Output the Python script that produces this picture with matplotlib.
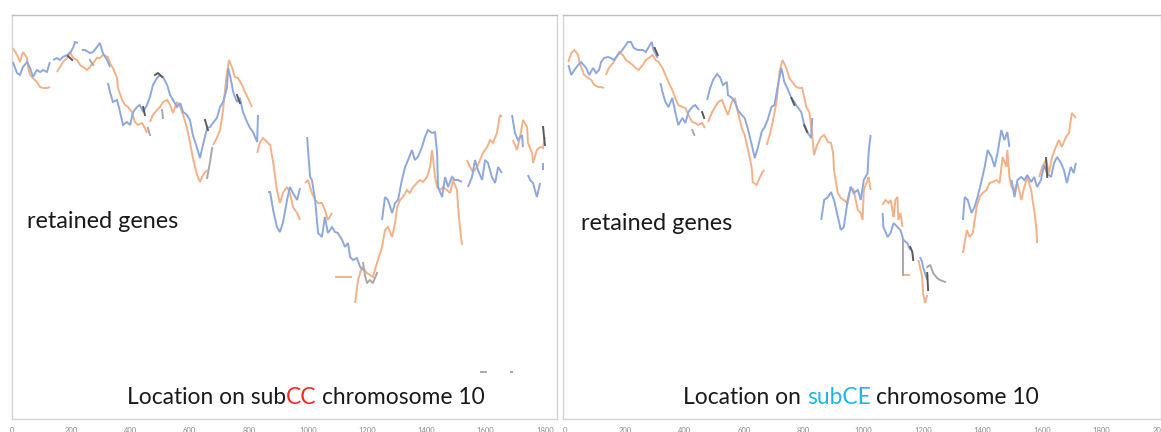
import numpy as np
import matplotlib
matplotlib.use("Agg")
import matplotlib.pyplot as plt

# ---------------- data (x = location on chromosome, y = relative score) ----------------
# Left panel: subCC
cc_blue_x = [
    [3,17,27,37,51,61,71,84,95,105,118,128],
    [139,152,162,172,186,196,206,213,223],
    [236,247,263,274,287,297,307,321,331],
    [324,331,341,355,365,375,388,399,409,422,432,443,456,466,476,490,500,510,524,534,544,557,568,578,591,601,611,625,635,645,659,669,679,692,703,713,726,730,736,743,747,760,770,780,794,804,814,828,831],
    [865,872,882,895,905,915,929,939,949,963,973],
    [997,1000,1007,1013,1017,1024,1030,1034,1047,1057,1067,1081,1091,1101,1115,1125,1135,1142,1152,1165,1176,1186],
    [1250,1260,1270,1284,1294,1304,1317,1328,1338,1351,1361,1371,1385,1395,1405,1419,1429,1436,1439,1453,1463,1473,1486,1496,1507,1520],
    [1540,1554,1564,1574,1588,1598,1608,1621,1632,1642,1655],
    [1689,1699,1709,1723,1726],
    [1743,1750,1760,1773,1784],
    [1794,1794],
]
cc_blue_y = [
    [357,346,344,352,357,351,342,349,347,349,347,357],
    [359,361,359,362,364,366,371,377,376],
    [369,369,366,367,372,376,366,359,352],
    [336,327,317,319,307,294,297,294,307,312,314,307,314,322,334,341,344,342,334,324,319,312,316,307,304,299,284,271,261,274,291,292,296,301,312,317,331,351,344,334,327,317,321,307,297,291,287,277,304],
    [227,227,209,192,187,196,219,232,226,219,231],
    [282,269,242,239,232,219,199,186,182,202,186,192,187,186,179,172,176,162,159,161,152,149],
    [199,222,219,206,216,219,239,252,259,269,259,262,272,282,289,286,287,266,232,222,242,232,242,239,239,237],
    [232,242,259,249,239,259,256,242,236,252,246],
    [304,286,279,284,272],
    [244,239,236,222,236],
    [256,249],
]
cc_orange_x = [
    [3,17,27,37,51,54,61,71,84,95,105,118,128],
    [152,162,172,186,196,206,220,230,240,253,263,274,287,297,307,324,331,341,355,358,372,382,392,405,415,426,439,449,456],
    [466,476,490,500,510,524,534,544,557,568,578,591,601,611,625,635,645,659],
    [679,692,703,713,723,733,743,753,763,777,787,797,811],
    [828,838,848,861,872,882,895,905,915,929,939,949,963,973],
    [990,1000,1013,1024,1034,1047,1057,1067,1081],
    [1091,1149],
    [1159,1169,1182,1199,1219,1236,1250,1260,1270,1284,1294,1301,1311,1321,1334,1344,1355,1368,1378,1388,1402,1412,1419,1429,1436,1446,1456,1469,1480,1490,1503,1507,1513,1520],
    [1537,1547,1557,1571,1581,1591,1605,1615,1625,1638,1648,1655],
    [1692,1706,1716,1726,1740,1743,1757,1760,1773,1784,1794,1800],
]
cc_orange_y = [
    [371,364,357,367,361,352,344,341,337,332,331,331,332],
    [347,352,357,361,367,361,359,354,352,349,352,356,361,361,364,362,356,351,341,331,319,314,312,307,297,294,296,291,286],
    [297,304,309,312,317,319,314,306,317,312,304,291,277,261,244,237,244,249],
    [274,281,289,309,339,359,352,342,341,334,327,321,312],
    [266,277,281,277,274,257,229,216,226,232,226,212,206,199],
    [236,239,226,219,216,216,209,199,206],
    [142,142],
    [116,139,152,146,142,159,172,189,192,182,196,212,219,222,229,226,232,236,239,237,242,252,269,242,232,229,232,229,226,239,229,212,192,174],
    [259,252,247,252,259,266,272,279,276,286,304,302],
    [279,269,282,299,292,276,266,256,269,272,271,282],
]
cc_gray_x = [[1186,1192,1199,1209,1219,1233],[659,669,676],[443,449],[483,493,507],[507,510],
             [459,466],[652,662],[760,770],[189,203],[263,274],[1794,1800],[1584,1601],[1686,1689]]
cc_gray_y = [[156,144,136,139,136,146],[241,257,271],[312,304],[344,346,342],[309,301],
             [291,284],[299,289],[324,316],[363,359],[359,354],[292,274],[47,47],[47,47]]
cc_gray_dark = [False, False, True, True, False, False, True, True, True, False, True, False, False]

# Right panel: subCE
ce_blue_x = [
    [10,20,30,43,53,70,80,93,103,113,120,130,143,153,163,176,186,196,210,220,230,243,260,270,280,290,296,310],
    [319,326,336,346,359,369,379,393,403,413,426,436,449],
    [476,486,496,509,519,529,542,546,559,569,579,592,602,612,626,636,646,659,669,679,692,702,712,725,729,735,745,759,769,779,792,802,812,825,829],
    [859,869,882,892,902,915,925,935,948,958,968,982,992,1002,1015,1018,1025],
    [1065,1068,1082,1092,1102,1115,1125,1135,1148,1158],
    [1191,1198,1201,1215],
    [1335,1341,1351,1364,1374,1384,1398,1408,1418,1431,1441,1451,1464,1474,1484,1491],
    [1498,1508,1518,1531,1541,1551,1564,1574,1584,1597,1607,1617,1631,1641,1651,1664,1674,1684,1697,1707,1714],
]
ce_blue_y = [
    [354,344,349,354,357,351,344,351,346,349,357,361,362,361,359,364,367,371,377,377,371,369,369,367,372,377,369,361],
    [336,327,317,312,321,307,294,301,296,307,312,314,309],
    [319,331,339,345,342,334,337,324,321,317,309,304,301,291,274,261,271,287,292,299,312,314,331,351,346,337,331,321,317,312,307,294,287,281,301],
    [199,219,222,227,219,202,189,192,219,232,226,229,219,239,246,266,284],
    [206,192,182,186,196,192,189,179,176,169],
    [162,157,152,139],
    [199,222,219,206,212,222,239,252,269,262,252,266,289,279,287,272],
    [239,222,239,242,239,244,237,242,232,239,254,246,242,256,262,256,249,236,252,246,256],
]
ce_orange_x = [
    [10,20,30,43,47,63,77,87,97,110,120,130],
    [136,146,160,170,180,193,203,213,226,236,246,260,270,280,293,303,313,326,336,346,359,369,379,393,403,413,426,436,446,459,469],
    [479,493,503,513,526,536,546,559,569,579,592,602,612,626,629,642,652,662,669],
    [676,686,696,709,719,729,742,752,762,775,785,795,809,819,829,835,845,859,869,882,892,899,902,909,915,925,935,948,958,968,982,992,998,1002,1015,1018,1025],
    [1065,1075,1085,1092,1098,1102,1108,1115,1118,1125,1132],
    [1135,1158],
    [1185,1191,1198,1201,1208,1215],
    [1335,1348,1358,1368,1381,1391,1401,1414,1424,1434,1448,1458,1468,1481,1484,1491,1498,1508,1518,1531,1541,1551,1564,1574,1581,1584],
    [1591,1601,1614,1624,1634,1647,1657,1667,1681,1691,1697,1701,1714],
]
ce_orange_y = [
    [357,366,369,364,357,344,341,339,334,332,332,331],
    [344,351,356,361,367,364,359,357,354,351,349,354,359,361,364,359,357,351,344,337,329,321,314,312,311,304,297,296,294,296,291],
    [297,307,312,317,319,311,304,317,321,307,291,284,271,251,237,234,241,247,249],
    [274,284,297,317,347,359,351,341,337,332,331,331,312,307,284,264,274,282,284,277,276,266,249,236,226,221,219,216,232,229,209,206,199,229,239,242,229],
    [214,219,216,219,209,202,219,222,199,206,192],
    [144,144],
    [159,152,142,126,116,124],
    [166,189,182,186,212,222,226,229,236,237,239,236,262,252,269,242,232,229,236,219,232,242,229,209,192,176],
    [242,252,259,246,262,272,279,272,282,286,299,306,301],
]
ce_gray_x = [[1215,1225,1235,1248,1258,1275],[1215,1218],[1135,1135],[1158,1165,1168],[459,466],
             [1614,1618],[300,310],[759,769],[802,812],[426,433]]
ce_gray_y = [[152,154,146,141,139,137],[146,129],[179,144],[172,167,159],[307,301],
             [261,242],[371,364],[321,314],[294,287],[289,284]]
ce_gray_dark = [False, True, False, True, True, True, True, True, True, False]

cc_ticks = [0, 200, 400, 600, 800, 1000, 1200, 1400, 1600, 1800]
ce_ticks = [0, 200, 400, 600, 800, 1000, 1200, 1400, 1600, 1800, 2000]

label_inside = "retained genes"
cc_title = ("Location on sub", "CC", " chromosome 10")
ce_title = ("Location on ", "subCE", " chromosome 10")

# ---------------- styling ----------------
W, H = 1161, 432
FONT = ["Lato", "DejaVu Sans"]
BLUE = "#8DA8DC"
ORANGE = "#F4B186"
DARK = "#5A5A5A"
LIGHT = "#A8A8A8"
RED = "#F5291B"
CYAN = "#1DB5EC"
FRAME = "#D4D4D4"

fig = plt.figure(figsize=(W / 100, H / 100), dpi=100)
fig.patch.set_facecolor("white")


def px_axes(x0, x1, y0, y1):
    return fig.add_axes([x0 / W, 1 - y1 / H, (x1 - x0) / W, (y1 - y0) / H])


ax1 = px_axes(12, 557, 15, 419)
ax2 = px_axes(563, 1161, 15, 419)


def draw_series(ax, xs, ys, color, lw=1.4, z=2):
    for sx, sy in zip(xs, ys):
        n = min(len(sx), len(sy))
        ax.plot(sx[:n], sy[:n], color=color, lw=lw, solid_joinstyle="miter",
                solid_capstyle="butt", zorder=z)


for ax, ox, oy, bx, by, gx, gy, gd, ticks, xlim in [
    (ax1, cc_orange_x, cc_orange_y, cc_blue_x, cc_blue_y, cc_gray_x, cc_gray_y, cc_gray_dark, cc_ticks, (0, 1841)),
    (ax2, ce_orange_x, ce_orange_y, ce_blue_x, ce_blue_y, ce_gray_x, ce_gray_y, ce_gray_dark, ce_ticks, (-8, 2000)),
]:
    draw_series(ax, ox, oy, ORANGE, z=2)
    draw_series(ax, bx, by, BLUE, z=3)
    for sx, sy, dark in zip(gx, gy, gd):
        ax.plot(sx, sy, color=DARK if dark else LIGHT, lw=1.4, zorder=4)
    ax.set_xlim(*xlim)
    ax.set_ylim(0, 404)
    ax.set_yticks([])
    ax.set_xticks(ticks)
    ax.set_xticklabels([str(t) for t in ticks])
    ax.tick_params(axis="x", length=0, pad=5.5, labelsize=5.5, labelcolor="#8A8A8A")
    for lab in ax.get_xticklabels():
        lab.set_family(FONT)
    for s in ax.spines.values():
        s.set_color(FRAME)
        s.set_linewidth(1.0)
    ax.spines["top"].set_color("#BDBDBD")
    ax.set_facecolor("none")

renderer = fig.canvas.get_renderer()


def text_width(s, size):
    t = fig.text(0, 0, s, fontsize=size, family=FONT)
    w = t.get_window_extent(renderer).width
    t.remove()
    return w


def rich(x_px, y_px, parts, colors, size):
    prefix = ""
    for p, c in zip(parts, colors):
        prefix_end = prefix + p
        stripped = p.strip()
        start = x_px + text_width(prefix_end.rstrip(), size) - text_width(stripped, size)
        fig.text(start / W, 1 - y_px / H, stripped, fontsize=size, family=FONT,
                 color=c, ha="left", va="center")
        prefix = prefix_end


TITLE_SIZE = 10 * 358 / text_width("".join(cc_title), 10)
LABEL_SIZE = 10 * 151 / text_width(label_inside, 10)

fig.text(27 / W, 1 - 222 / H, label_inside, fontsize=LABEL_SIZE, family=FONT,
         color="#1a1a1a", ha="left", va="center")
fig.text(581 / W, 1 - 224 / H, label_inside, fontsize=LABEL_SIZE, family=FONT,
         color="#1a1a1a", ha="left", va="center")
rich(127, 398, cc_title, ["#1a1a1a", RED, "#1a1a1a"], TITLE_SIZE)
rich(683, 397, ce_title, ["#1a1a1a", CYAN, "#1a1a1a"], TITLE_SIZE)

fig.savefig("out.png", dpi=100, facecolor="white")
